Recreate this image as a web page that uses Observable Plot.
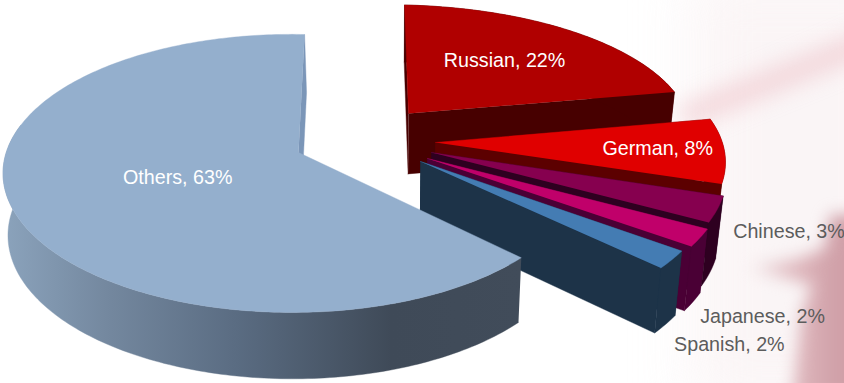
<!DOCTYPE html>
<html>
<head>
<meta charset="utf-8">
<script src="https://cdn.jsdelivr.net/npm/d3@7"></script>
<script src="https://cdn.jsdelivr.net/npm/@observablehq/plot@0.6"></script>
<style>
  html, body { margin: 0; padding: 0; background: #fff; overflow: hidden; }
  #stage { position: relative; width: 844px; height: 383px; overflow: hidden; }
  #stage svg { position: absolute; left: 0; top: 0; background: transparent; }
  .wash { position: absolute; }
  .haze { left: 690px; top: -30px; width: 220px; height: 440px; background: #faf3f4; opacity: .8; filter: blur(30px); }
  .streak { left: 672px; top: 57px; width: 260px; height: 24px; background: #eec3c9; opacity: .6; transform: rotate(-22deg); filter: blur(11px); }
  .soft { left: 0; top: 0; width: 844px; height: 383px; filter: blur(8px); }
  .figure { position: absolute; left: 700px; top: 200px; width: 170px; height: 200px;
    background: linear-gradient(to right, #f0dfe1 25%, #ddb5bb 60%, #d0a0a8 80%);
    clip-path: polygon(130px 15px, 170px 15px, 170px 200px, 92px 200px, 102px 110px, 112px 85px, 85px 78px, 50px 68px, 100px 58px, 125px 48px); }
</style>
</head>
<body>
<div id="stage">
  <div class="wash haze"></div>
  <div class="wash streak"></div>
  <div class="wash soft"><div class="figure"></div></div>
</div>
<script>
// Language shares, in percent, clockwise from twelve o'clock
const languages = ["Russian", "German", "Chinese", "Japanese", "Spanish", "Others"];
const shares = [22, 8, 3, 2, 2, 63];

// Colours of the slices
const topColors = ["#b00000", "#e00000", "#86004f", "#c0006a", "#447cb3", "#94afcd"];
const sideColors = ["#470000", "#5c0000", "#2e0020", "#4a0035", "#1d3348", "url(#othersSide)"];
const cutColors = ["#470000", "#5c0000", "#2e0020", "#4a0035", "#1d3348", "#7b96b8"];
const labelColors = ["#fff", "#fff", "#5c5c5c", "#5c5c5c", "#5c5c5c", "#fff"];

// Exploded layout: where each slice's tip sits and how it is scaled
const tipX = [408, 435, 431, 427, 420, 298];
const tipY = [113, 142, 152, 158, 161, 152];
const scaleX = [1, 1.03, 1.05, 1.06, 1.05, 0.963];
const scaleY = [0.92, 1, 1.05, 1.06, 1.08, 1];
const lean = [-4.6, 0, 0, 0, 0, 7];
const tilt = [0, 0, 0, 0, 0, 4];
const rightShrink = [0.063, 0.063, 0.063, 0.063, 0.063, 0.02];

// Label placement relative to the slice: radial fraction plus a nudge
const labelRadius = [0.6, 0.76, 1.25, 1.25, 1.2, 0.45];
const labelNudgeX = [-5.5, 0, 0, -8, 4, 2.5];
const labelNudgeY = [0, 0, 8, 58, 64, 2];

// Perspective of the tilted disc
const radiusX = 296, radiusY = 135.8, farShrink = 0.151;
const wallHeight = (y) => 57 + 0.03 * y;
const drop = ([x, y]) => [390 + (x - 390) * 0.977, y + wallHeight(y)];
// The big slice's rounded wall converges a little less than the cut faces
const dropOuter = ([x, y]) => [0.985 * x + 5, y + wallHeight(y)];

function project(i, angle, r) {
  const u = r * Math.sin(angle), w = r * Math.cos(angle);
  const d = 1 + farShrink * w + rightShrink[i] * u;
  return [
    tipX[i] + (radiusX * scaleX[i] * u + lean[i] * w) / d,
    tipY[i] + (tilt[i] * u - radiusY * scaleY[i] * w) / d
  ];
}
const asRows = (pts) => pts.map(([x, y]) => ({x, y}));

// Cumulative angles from the shares
const total = d3.sum(shares);
let running = 0;
const slices = shares.map((s, i) => {
  const start = (running / total) * 2 * Math.PI;
  running += s;
  return {i, start, end: (running / total) * 2 * Math.PI};
});

function arcAngles({start, end}) {
  const n = Math.max(4, Math.ceil((end - start) * 60));
  return d3.range(n + 1).map((k) => start + ((end - start) * k) / n);
}

const shadow = "drop-shadow(4px 3px 3.5px rgba(0,0,0,.55))";
const polygon = (pts, fill, extra = {}) =>
  Plot.line(asRows(pts), {x: "x", y: "y", fill, stroke: fill, strokeWidth: 0.4, curve: "linear", ...extra});

const marks = [
  () => {
    const defs = d3.create("svg:defs");
    const g = defs.append("linearGradient").attr("id", "othersSide");
    [[0, "#8ba3bc"], [0.2, "#74889f"], [0.45, "#5a6c82"], [0.75, "#3f4a58"], [1, "#414c5a"]]
      .forEach(([o, c]) => g.append("stop").attr("offset", o).attr("stop-color", c));
    return defs.node();
  }
];

for (const s of slices) {
  const {i} = s;
  const angles = arcAngles(s);
  const arc = angles.map((a) => project(i, a, 1));
  const tip = [tipX[i], tipY[i]];
  const a0 = arc[0], a1 = arc[arc.length - 1];
  const isOthers = languages[i] === "Others";
  // Only the near half of the big slice's rim shows, so its wall stops at the far left
  const rim = isOthers ? arc.filter((_, k) => angles[k] <= 1.56 * Math.PI) : arc;
  const wallDrop = isOthers ? dropOuter : drop;
  // Cut faces and outer wall under the top surface, then the top itself
  if (!isOthers) marks.push(polygon([tip, a0, drop(a0), drop(tip)], cutColors[i], {style: {filter: shadow}}));
  marks.push(polygon([tip, a1, drop(a1), drop(tip)], cutColors[i], {style: {filter: shadow}}));
  marks.push(polygon([...rim, ...rim.map(wallDrop).reverse()], sideColors[i], {style: {filter: shadow}}));
  marks.push(polygon([tip, ...arc], topColors[i]));
}

const labelRows = slices.map((s) => {
  const [x, y] = project(s.i, (s.start + s.end) / 2, labelRadius[s.i]);
  return {
    x: x + labelNudgeX[s.i],
    y: y + labelNudgeY[s.i],
    text: `${languages[s.i]}, ${shares[s.i]}%`,
    color: labelColors[s.i]
  };
});
marks.push(Plot.text(labelRows, {
  x: "x", y: "y", text: "text", fill: "color",
  fontSize: 19.7, fontFamily: "Liberation Sans", textAnchor: "middle", lineAnchor: "middle"
}));

const chart = Plot.plot({
  width: 844, height: 383,
  margin: 0,
  x: {domain: [0, 844], range: [0, 844], axis: null},
  y: {domain: [0, 383], range: [0, 383], axis: null},
  color: {type: "identity"},
  style: {background: "transparent"},
  marks
});
document.getElementById("stage").appendChild(chart);
</script>
</body>
</html>
